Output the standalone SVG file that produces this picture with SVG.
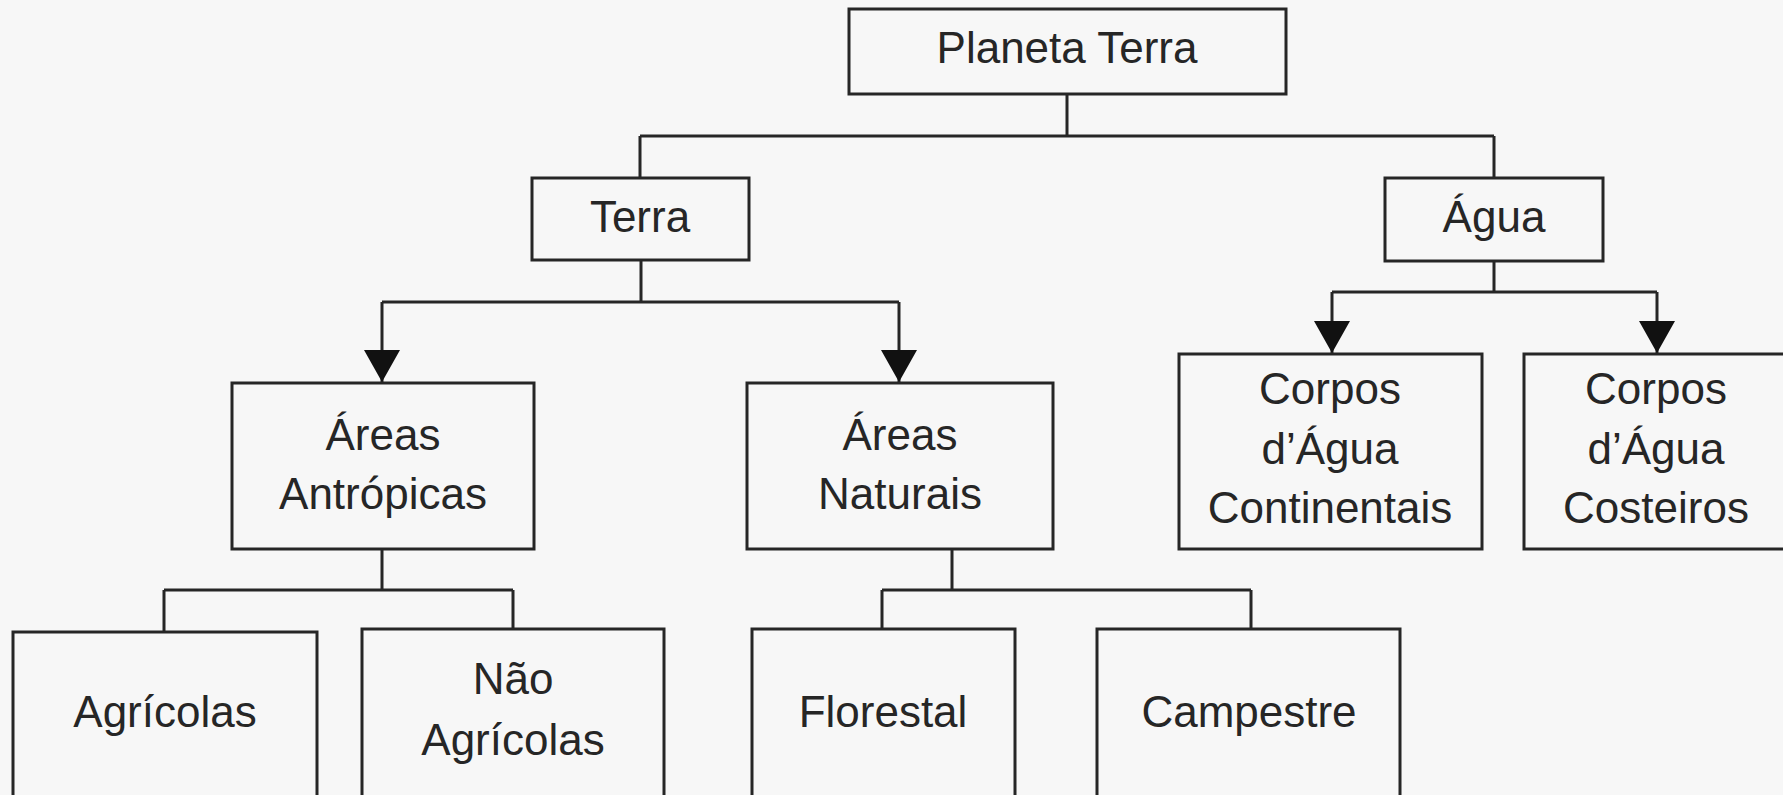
<svg xmlns="http://www.w3.org/2000/svg" width="1783" height="795" viewBox="0 0 1783 795">
<style>
.box{fill:#f7f7f7;stroke:#262626;stroke-width:3}
.ln{fill:none;stroke:#262626;stroke-width:3}
text{font-family:"Liberation Sans",Arial,sans-serif;font-size:44px;fill:#262626;text-anchor:middle}
</style>
<defs>
<marker id="arr" markerUnits="userSpaceOnUse" markerWidth="33" markerHeight="36" refX="32" refY="18" orient="auto" viewBox="0 0 33 36">
<path d="M0,0 L32,18 L0,36 z" fill="#111"/>
</marker>
</defs>
<rect width="1783" height="795" fill="#f7f7f7"/>
<g id="connectors">
<path class="ln" d="M1067,94 V136 M640,136 H1494 M640,136 V178 M1494,136 V178"/>
<path class="ln" d="M641,260 V302 H899 M641,302 H382"/>
<path class="ln" d="M382,302 V382" marker-end="url(#arr)"/>
<path class="ln" d="M899,302 V382" marker-end="url(#arr)"/>
<path class="ln" d="M1494,261 V292 M1332,292 H1657"/>
<path class="ln" d="M1332,292 V353" marker-end="url(#arr)"/>
<path class="ln" d="M1657,292 V353" marker-end="url(#arr)"/>
<path class="ln" d="M382,549 V590 M164,590 H513 M164,590 V632 M513,590 V629"/>
<path class="ln" d="M952,549 V590 M882,590 H1251 M882,590 V629 M1251,590 V629"/>
</g>
<g id="planeta-terra"><rect class="box" x="849" y="9" width="437" height="85"/><text x="1067" y="63">Planeta Terra</text></g>
<g id="terra"><rect class="box" x="532" y="178" width="217" height="82"/><text x="640" y="232">Terra</text></g>
<g id="agua"><rect class="box" x="1385" y="178" width="218" height="83"/><text x="1494" y="232">Água</text></g>
<g id="areas-antropicas"><rect class="box" x="232" y="383" width="302" height="166"/><text x="383" y="450">Áreas</text><text x="383" y="509">Antrópicas</text></g>
<g id="areas-naturais"><rect class="box" x="747" y="383" width="306" height="166"/><text x="900" y="450">Áreas</text><text x="900" y="509">Naturais</text></g>
<g id="corpos-continentais"><rect class="box" x="1179" y="354" width="303" height="195"/><text x="1330" y="404">Corpos</text><text x="1330" y="464">d’Água</text><text x="1330" y="523">Continentais</text></g>
<g id="corpos-costeiros"><rect class="box" x="1524" y="354" width="270" height="195"/><text x="1656" y="404">Corpos</text><text x="1656" y="464">d’Água</text><text x="1656" y="523">Costeiros</text></g>
<g id="agricolas"><rect class="box" x="13" y="632" width="304" height="180"/><text x="165" y="727">Agrícolas</text></g>
<g id="nao-agricolas"><rect class="box" x="362" y="629" width="302" height="180"/><text x="513" y="694">Não</text><text x="513" y="755">Agrícolas</text></g>
<g id="florestal"><rect class="box" x="752" y="629" width="263" height="180"/><text x="883" y="727">Florestal</text></g>
<g id="campestre"><rect class="box" x="1097" y="629" width="303" height="180"/><text x="1249" y="727">Campestre</text></g>
</svg>
